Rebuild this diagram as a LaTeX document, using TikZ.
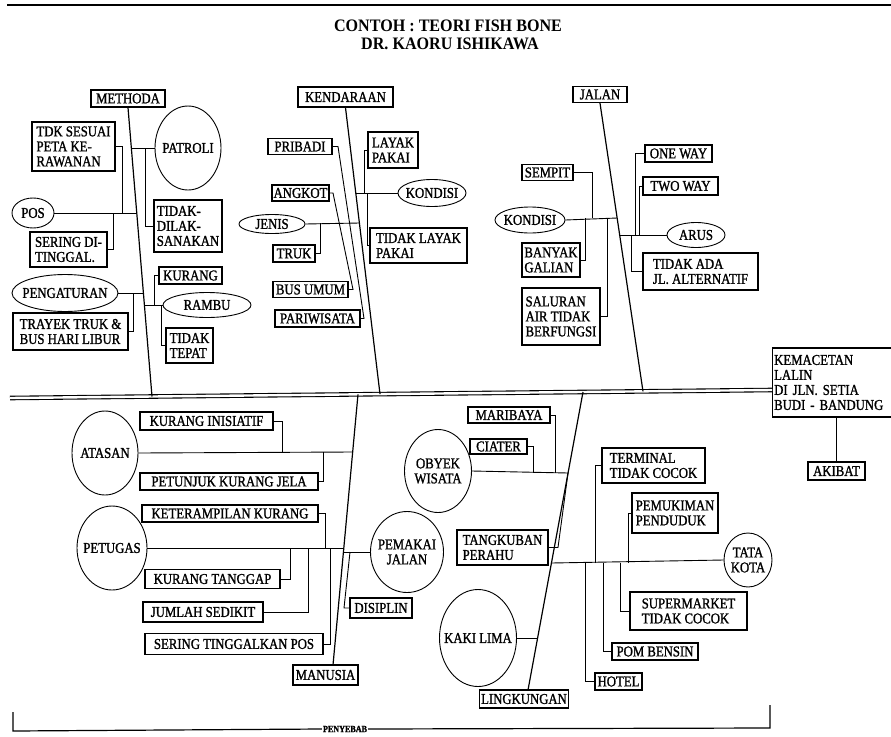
\documentclass[tikz,border=0pt]{standalone}
\usepackage{fontspec}
\setmainfont{Liberation Serif}
\newfontfamily\boxfont[FakeStretch=0.85,FakeBold=1.2]{Liberation Serif}
\newfontfamily\titlefont[FakeStretch=0.92]{Liberation Serif}
\usetikzlibrary{shapes.geometric}

\begin{document}
\begin{tikzpicture}[x=1pt,y=-1pt,
  lbl/.style={draw, line width=1.3pt, inner sep=1.5pt, align=left,
              font=\boxfont\fontsize{15}{15}\selectfont},
  oval/.style={draw, ellipse, line width=0.9pt, inner xsep=-15pt, inner ysep=-4pt,
               align=center, font=\boxfont\fontsize{15}{15}\selectfont},
  bone/.style={line width=1.2pt},
  twig/.style={line width=0.9pt},
  spine/.style={line width=1.1pt, double=white, double distance=2.4pt},
  head/.style={font=\titlefont\bfseries\fontsize{17.5}{19}\selectfont},
]
\useasboundingbox (0,0) rectangle (891,736);
\fill[white] (0,0) rectangle (891,736);

% header rule and title
\coordinate (r1) at (7,5);
\coordinate (r2) at (891,5);
\draw[line width=2.5pt] (r1) -- (r2);
\node[head] (t1) at (448,26) {CONTOH : TEORI FISH BONE};
\node[head] (t2) at (450,44) {DR. KAORU ISHIKAWA};

% ---------- effect ----------
\node[lbl, anchor=west, minimum height=69pt, text width=128pt] (effect) at (772,382.5)
  {KEMACETAN\\LALIN\\DI JLN. SETIA\\BUDI - BANDUNG};
\node[lbl, minimum width=57pt, minimum height=18pt] (akibat) at (836.5,471) {AKIBAT};
\draw[bone] (effect.south -| akibat.north) -- (akibat.north);

% spine
\coordinate (sL) at (10,398);
\coordinate (sR) at (772,390);
\draw[spine] (sL) -- (sR);

% ---------- METHODA ----------
\node[lbl, minimum width=74pt, minimum height=17pt] (methoda) at (128,98.5) {METHODA};
\node[lbl, minimum width=83pt, minimum height=49pt] (tdk) at (73.5,146.5) {TDK SESUAI\\PETA KE-\\RAWANAN};
\node[lbl, minimum width=77pt, minimum height=35pt] (seringdi) at (68.5,249.5) {SERING DI-\\TINGGAL.};
\node[lbl, minimum width=68pt, minimum height=52pt] (tidakdilak) at (188,226) {TIDAK-\\DILAK-\\SANAKAN};
\node[lbl, minimum width=63pt, minimum height=17pt] (kurang) at (190.5,275.5) {KURANG};
\node[lbl, minimum width=115pt, minimum height=37pt] (trayek) at (70.5,331.5) {TRAYEK TRUK \&\\BUS HARI LIBUR};
\node[lbl, minimum width=47pt, minimum height=35pt] (tepat) at (189.5,345.5) {TIDAK\\TEPAT};
\node[oval, minimum width=66pt, minimum height=84pt] (patroli) at (188,148) {PATROLI};
\node[oval, minimum width=42pt, minimum height=30pt] (pos) at (33,213) {POS};
\node[oval, minimum width=106pt, minimum height=37pt] (pengaturan) at (65,293) {PENGATURAN};
\node[oval, minimum width=88pt, minimum height=25pt] (rambu) at (207,305) {RAMBU};

\coordinate (mEnd) at (152,396.5);
\draw[bone] (methoda.south) -- (mEnd);
\coordinate (mP) at (131.4,148);
\coordinate (mP2) at (145,148);
\draw[twig] (mP) -- (patroli.west);
\draw[twig] (mP2) |- (tidakdilak.west);
\coordinate (mS) at (136.8,213);
\coordinate (mS2) at (122,213);
\coordinate (mS3) at (113,213);
\draw[twig] (pos.east) -- (mS);
\draw[twig] (tdk.east) -| (mS2);
\draw[twig] (seringdi.east) -| (mS3);
\coordinate (mG) at (143.4,293);
\coordinate (mG2) at (133,293);
\draw[twig] (pengaturan.east) -- (mG);
\draw[twig] (trayek.east) -| (mG2);
\coordinate (mR) at (144.4,305);
\coordinate (mR2) at (154,305);
\coordinate (mR3) at (161,305);
\draw[twig] (mR) -- (rambu.west);
\draw[twig] (mR2) |- (kurang.west);
\draw[twig] (mR3) |- (tepat.west);

% ---------- KENDARAAN ----------
\node[lbl, minimum width=95pt, minimum height=20pt] (kendaraan) at (345.5,97) {KENDARAAN};
\node[lbl, minimum width=64pt, minimum height=16pt] (pribadi) at (300,146.5) {PRIBADI};
\node[lbl, minimum width=50pt, minimum height=36pt] (layak) at (393,150) {LAYAK\\PAKAI};
\node[lbl, minimum width=55pt, minimum height=16pt] (angkot) at (300.5,193) {ANGKOT};
\node[lbl, minimum width=42pt, minimum height=17pt] (truk) at (294,253.5) {TRUK};
\node[lbl, minimum width=75pt, minimum height=16pt] (busumum) at (310.5,289.5) {BUS UMUM};
\node[lbl, minimum width=85pt, minimum height=17pt] (pariwisata) at (317.5,318.5) {PARIWISATA};
\node[lbl, minimum width=97pt, minimum height=35pt] (tidaklayak) at (418.5,245.5) {TIDAK LAYAK\\PAKAI};
\node[oval, minimum width=66pt, minimum height=19pt] (jenis) at (272,224) {JENIS};
\node[oval, minimum width=68pt, minimum height=27pt] (kondisiA) at (432,193) {KONDISI};

\coordinate (kEnd) at (380,394.1);
\draw[bone] (kendaraan.south) -- (kEnd);
\coordinate (kK) at (355.8,193);
\coordinate (kK2) at (364,193);
\coordinate (kK3) at (367,193);
\draw[twig] (kK) -- (kondisiA.west);
\draw[twig] (kK2) |- (layak.west);
\draw[twig] (kK3) |- (tidaklayak.west);
\coordinate (kJ) at (359.4,223);
\coordinate (kJ2) at (320,223);
\draw[twig] (jenis.east) -- (kJ);
\draw[twig] (truk.east) -| (kJ2);
\coordinate (kA1) at (338,146.5);
\coordinate (kA2) at (364,318.5);
\draw[twig] (pribadi.east) -- (kA1) -- (kA2) -- (pariwisata.east);
\coordinate (kB1) at (333,193);
\coordinate (kB2) at (353,289.5);
\draw[twig] (angkot.east) -- (kB1) -- (kB2) -- (busumum.east);

% ---------- JALAN ----------
\node[lbl, minimum width=54pt, minimum height=16pt] (jalan) at (600,94.5) {JALAN};
\node[lbl, minimum width=51pt, minimum height=16pt] (sempit) at (547.5,172.5) {SEMPIT};
\node[lbl, minimum width=58pt, minimum height=34pt] (banyak) at (551,260) {BANYAK\\GALIAN};
\node[lbl, minimum width=78pt, minimum height=57pt] (saluran) at (561,316.5) {SALURAN\\AIR TIDAK\\BERFUNGSI};
\node[lbl, minimum width=67pt, minimum height=17pt] (oneway) at (678.5,153.5) {ONE WAY};
\node[lbl, minimum width=75pt, minimum height=18pt] (twoway) at (680.5,186) {TWO WAY};
\node[lbl, minimum width=115pt, minimum height=37pt] (tidakada) at (700.5,271.5) {TIDAK ADA\\JL. ALTERNATIF};
\node[oval, minimum width=70pt, minimum height=26pt] (kondisiB) at (530,220) {KONDISI};
\node[oval, minimum width=58pt, minimum height=25pt] (arus) at (696,235) {ARUS};

\coordinate (jEnd) at (643,391.4);
\draw[bone] (jalan.south) -- (jEnd);
\coordinate (jK) at (617.2,218);
\coordinate (jK2) at (592,218);
\coordinate (jK3) at (585,218);
\coordinate (jK4) at (607,218);
\draw[twig] (kondisiB.east) -- (jK);
\draw[twig] (sempit.east) -| (jK2);
\draw[twig] (jK3) |- (banyak.east);
\draw[twig] (jK4) |- (saluran.east);
\coordinate (jA) at (619.7,235);
\coordinate (jA2) at (635,235);
\coordinate (jA3) at (639,235);
\coordinate (jA4) at (631,235);
\draw[twig] (jA) -- (arus.west);
\draw[twig] (jA2) |- (oneway.west);
\draw[twig] (jA3) |- (twoway.west);
\draw[twig] (jA4) |- (tidakada.west);

% ---------- MANUSIA ----------
\node[lbl, minimum width=133pt, minimum height=18pt] (inisiatif) at (206.5,421) {KURANG INISIATIF};
\node[lbl, minimum width=178pt, minimum height=17pt] (petunjuk) at (229,481.5) {PETUNJUK KURANG JELA};
\node[lbl, minimum width=176pt, minimum height=17pt] (terampil) at (230,513.5) {KETERAMPILAN KURANG};
\node[lbl, minimum width=135pt, minimum height=19pt] (tanggap) at (212.5,579) {KURANG TANGGAP};
\node[lbl, minimum width=120pt, minimum height=20pt] (jumlah) at (203,612) {JUMLAH SEDIKIT};
\node[lbl, minimum width=178pt, minimum height=21pt] (seringpos) at (234,644) {SERING TINGGALKAN POS};
\node[lbl, minimum width=65pt, minimum height=20pt] (manusia) at (325.5,675) {MANUSIA};
\node[lbl, minimum width=62pt, minimum height=20pt] (disiplin) at (381,608) {DISIPLIN};
\node[oval, minimum width=66pt, minimum height=84pt] (atasan) at (105,453) {ATASAN};
\node[oval, minimum width=70pt, minimum height=84pt] (petugas) at (112,548) {PETUGAS};
\node[oval, minimum width=73pt, minimum height=81pt] (pemakai) at (407,552) {PEMAKAI\\JALAN};

\coordinate (hTop) at (358,394.3);
\coordinate (hBot) at (333,665);
\draw[bone] (hTop) -- (hBot);
\coordinate (hA) at (352.7,452);
\coordinate (hA2) at (282,452);
\coordinate (hA3) at (323,452);
\draw[twig] (atasan.east) -- (hA);
\draw[twig] (inisiatif.east) -| (hA2);
\draw[twig] (hA3) |- (petunjuk.east);
\coordinate (hP) at (343.8,548);
\coordinate (hP2) at (325,548);
\coordinate (hP3) at (290,548);
\coordinate (hP4) at (308,548);
\coordinate (hP5) at (330,548);
\draw[twig] (petugas.east) -- (hP);
\draw[twig] (terampil.east) -| (hP2);
\draw[twig] (hP3) |- (tanggap.east);
\draw[twig] (hP4) |- (jumlah.east);
\draw[twig] (hP5) |- (seringpos.east);
\coordinate (hJ) at (343.4,552);
\coordinate (hJ2) at (350,552);
\coordinate (hJ3) at (344,608);
\draw[twig] (hJ) -- (pemakai.west);
\draw[twig] (hJ2) -- (hJ3) -- (disiplin.west);

% ---------- LINGKUNGAN ----------
\node[lbl, minimum width=82pt, minimum height=16pt] (maribaya) at (509,415) {MARIBAYA};
\node[lbl, minimum width=57pt, minimum height=15pt] (ciater) at (498.5,446.5) {CIATER};
\node[lbl, minimum width=91pt, minimum height=35pt] (tangkuban) at (502.5,547.5) {TANGKUBAN\\PERAHU};
\node[lbl, minimum width=68pt, minimum height=18pt] (lingkungan) at (524,699) {LINGKUNGAN};
\node[oval, minimum width=67pt, minimum height=83pt] (obyek) at (438,471) {OBYEK\\WISATA};
\node[oval, minimum width=77pt, minimum height=97pt] (kakilima) at (478,638) {KAKI LIMA};
\node[lbl, minimum width=103pt, minimum height=35pt] (terminal) at (653.5,465.5) {TERMINAL\\TIDAK COCOK};
\node[lbl, minimum width=86pt, minimum height=40pt] (pemukiman) at (675,513) {PEMUKIMAN\\PENDUDUK};
\node[lbl, minimum width=117pt, minimum height=38pt] (supermarket) at (688.5,611) {SUPERMARKET\\TIDAK COCOK};
\node[lbl, minimum width=86pt, minimum height=17pt] (pom) at (655,651.5) {POM BENSIN};
\node[lbl, minimum width=47pt, minimum height=17pt] (hotel) at (618.5,681.5) {HOTEL};
\node[oval, minimum width=48pt, minimum height=54pt] (tatakota) at (748,560) {TATA\\KOTA};

\coordinate (lTop) at (583,392);
\coordinate (lBot) at (528,690);
\draw[bone] (lTop) -- (lBot);
\coordinate (lO) at (568,473);
\coordinate (lO2) at (555,473);
\coordinate (lO3) at (533,473);
\draw[twig] (obyek.east) -- (lO);
\draw[twig] (maribaya.east) -| (lO2);
\draw[twig] (ciater.east) -| (lO3);
\coordinate (lG) at (558,547.5);
\draw[twig] (lO) -- (lG) -- (tangkuban.east);
\coordinate (lT) at (551.4,563);
\coordinate (lT1) at (595,563);
\coordinate (lT2) at (628,563);
\coordinate (lT3) at (620,563);
\coordinate (lT4) at (603,563);
\coordinate (lT5) at (585,563);
\draw[twig] (lT) -- (tatakota.west);
\draw[twig] (lT1) |- (terminal.west);
\draw[twig] (lT2) |- (pemukiman.west);
\draw[twig] (lT3) |- (supermarket.west);
\draw[twig] (lT4) |- (pom.west);
\draw[twig] (lT5) |- (hotel.west);
\coordinate (lK) at (537.6,638);
\draw[twig] (kakilima.east) -- (lK);

% ---------- cause bracket ----------
\node[font=\boxfont\bfseries\fontsize{9.5}{10}\selectfont, inner sep=1pt] (penyebab) at (345,729) {PENYEBAB};
\coordinate (bL1) at (13,712);
\coordinate (bL2) at (13,731);
\coordinate (bR2) at (770,728);
\coordinate (bR1) at (770,705);
\draw[bone] (bL1) -- (bL2) -- (penyebab.west);
\draw[bone] (penyebab.east) -- (bR2) -- (bR1);
\end{tikzpicture}
\end{document}
